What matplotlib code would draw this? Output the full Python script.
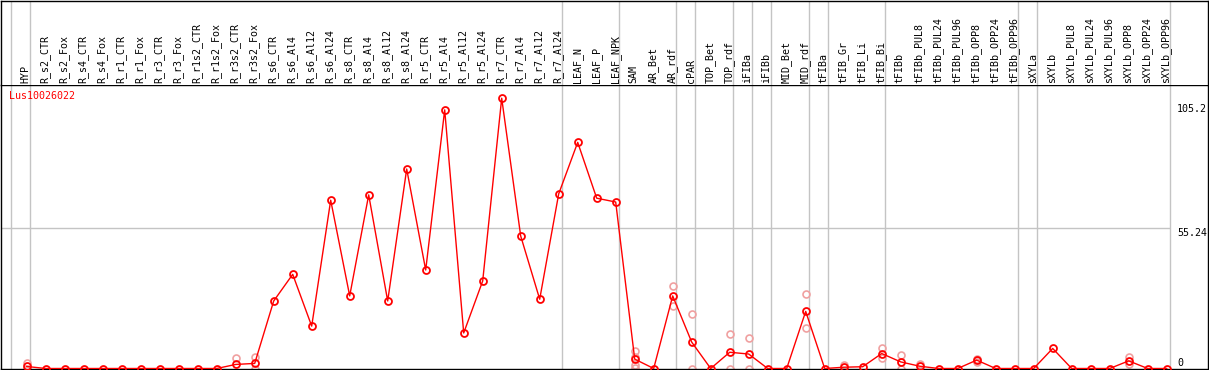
import numpy as np
import matplotlib
matplotlib.use("Agg")
import matplotlib.pyplot as plt

# sample names along the x axis
samples = ["HYP",
           "R_s2_CTR", "R_s2_Fox", "R_s4_CTR", "R_s4_Fox", "R_r1_CTR", "R_r1_Fox",
           "R_r3_CTR", "R_r3_Fox", "R_r1s2_CTR", "R_r1s2_Fox", "R_r3s2_CTR", "R_r3s2_Fox",
           "R_s6_CTR", "R_s6_Al4", "R_s6_Al12", "R_s6_Al24",
           "R_s8_CTR", "R_s8_Al4", "R_s8_Al12", "R_s8_Al24",
           "R_r5_CTR", "R_r5_Al4", "R_r5_Al12", "R_r5_Al24",
           "R_r7_CTR", "R_r7_Al4", "R_r7_Al12", "R_r7_Al24",
           "LEAF_N", "LEAF_P", "LEAF_NPK",
           "SAM", "AR_Bet", "AR_rdf", "cPAR", "TOP_Bet", "TOP_rdf", "iFIBa", "iFIBb",
           "MID_Bet", "MID_rdf", "tFIBa", "tFIB_Gr", "tFIB_Li", "tFIB_Bi",
           "tFIBb", "tFIBb_PUL8", "tFIBb_PUL24", "tFIBb_PUL96",
           "tFIBb_OPP8", "tFIBb_OPP24", "tFIBb_OPP96",
           "sXYLa", "sXYLb", "sXYLb_PUL8", "sXYLb_PUL24", "sXYLb_PUL96",
           "sXYLb_OPP8", "sXYLb_OPP24", "sXYLb_OPP96"]

# mean expression per sample
mean_vals = [0.8,
             0, 0, 0, 0, 0, 0, 0, 0, 0, 0, 1.6, 2.0,
             26.6, 37.1, 16.7, 66.3,
             28.6, 68.4, 26.6, 78.6,
             38.8, 101.9, 14.0, 34.5,
             106.5, 52.2, 27.3, 68.8,
             89.1, 67.1, 65.6,
             3.7, 0, 28.6, 10.4, 0, 6.4, 5.7, 0,
             0, 22.5, 0, 0.5, 0.7, 5.9,
             2.6, 0.9, 0, 0,
             3.3, 0, 0,
             0, 7.9, 0, 0, 0,
             3.0, 0, 0]

# individual replicates (sample index, value)
rep_idx = [0, 0, 11, 12, 12, 32, 32, 32, 32, 34, 34, 35, 35, 37, 37, 38, 38,
           41, 41, 43, 45, 45, 46, 46, 47, 50, 50, 58, 58]
rep_val = [2.3, 0, 4.1, 4.6, 0, 7.0, 4.7, 1.5, 0.3, 32.5, 24.6, 21.3, 0, 13.6, 0, 11.9, 0,
           29.2, 15.8, 1.4, 8.0, 4.0, 5.3, 0, 1.7, 3.8, 2.6, 4.4, 1.8]

# group separators come right after these samples
group_ends = [-1, 0, 28, 31, 34, 35, 37, 38, 39, 41, 42, 45, 52, 53, 60]

y_ticks = [0, 55.24, 105.2]
gene = "Lus10026022"

W, H = 1209, 370
x0, dx = 26.7, 19.0      # pixel position of first sample, spacing
y0, dy = 368.5, 2.538    # pixel row of zero, pixels per unit


def px2i(px):
    return (px - x0) / dx


def py2v(py):
    return (y0 - py) / dy


fig = plt.figure(figsize=(W / 100, H / 100), dpi=100)
mono = "DejaVu Sans Mono"
fs = 7.2

# plot area
ax = fig.add_axes([1 / W, 1 / H, 1207 / W, 284 / H])
ax.set_xlim(px2i(1), px2i(1208))
ax.set_ylim(py2v(369), py2v(85))
# label area
ax_lab = fig.add_axes([1 / W, 285 / H, 1207 / W, 84.5 / H])
ax_lab.set_xlim(px2i(1), px2i(1208))
ax_lab.set_ylim(0, 1)

for a in (ax, ax_lab):
    a.set_xticks([])
    a.set_yticks([])
    a.set_facecolor("white")
    for s in a.spines.values():
        s.set_color("black")
        s.set_linewidth(1.0)
    for g in group_ends:
        a.axvline(g + 0.18, color="#c4c4c4", lw=1, zorder=0)
ax_lab.spines["bottom"].set_visible(False)

ax.hlines(55.24, px2i(1), 60.18, color="#c4c4c4", lw=1, zorder=0)

x = np.arange(len(samples))
ax.plot(rep_idx, rep_val, linestyle="none", marker="o", ms=5.0, mfc="none",
        mec="#f0a0a0", mew=1.2, zorder=2)
ax.plot(x, mean_vals, color="red", lw=1, marker="o", ms=5.0, mfc="none",
        mec="red", mew=1.3, zorder=3)

for i, name in enumerate(samples):
    ax_lab.text(i + 0.1, 0.02, name, rotation=90, rotation_mode="anchor",
                ha="left", va="baseline", fontsize=fs, family=mono)

ax.text(px2i(9), py2v(91), gene, color="red", fontsize=fs, family=mono,
        ha="left", va="top")

xt = px2i(1177)
ax.text(xt, y_ticks[0] + 0.2, "0", fontsize=fs, family=mono, ha="left", va="bottom")
ax.text(xt, y_ticks[1], "55.24", fontsize=fs, family=mono, ha="left", va="top")
ax.text(xt, y_ticks[2] - 1, "105.2", fontsize=fs, family=mono, ha="left", va="top")

fig.savefig("out.png", dpi=100)
